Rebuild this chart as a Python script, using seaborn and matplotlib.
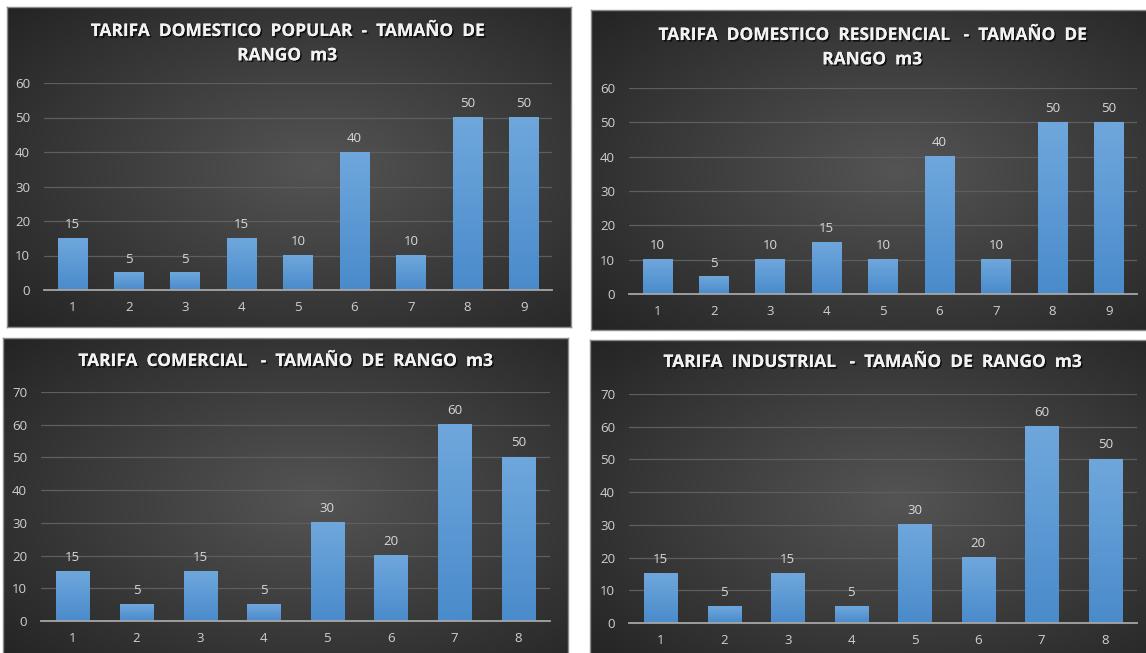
import numpy as np
import pandas as pd
import seaborn as sns
import matplotlib.pyplot as plt
import matplotlib.patheffects as pe
from matplotlib.colors import LinearSegmentedColormap

# data
rangos_9 = ["1", "2", "3", "4", "5", "6", "7", "8", "9"]
rangos_8 = ["1", "2", "3", "4", "5", "6", "7", "8"]
popular = [15, 5, 5, 15, 10, 40, 10, 50, 50]
residencial = [10, 5, 10, 15, 10, 40, 10, 50, 50]
comercial = [15, 5, 15, 5, 30, 20, 60, 50]
industrial = [15, 5, 15, 5, 30, 20, 60, 50]

titles = ["TARIFA  DOMESTICO  POPULAR  -  TAMAÑO  DE\nRANGO  m3",
          "TARIFA  DOMESTICO  RESIDENCIAL   -  TAMAÑO  DE\nRANGO  m3",
          "TARIFA  COMERCIAL   -  TAMAÑO  DE  RANGO  m3",
          "TARIFA  INDUSTRIAL   -  TAMAÑO  DE  RANGO  m3"]

W, H = 1146, 653

sns.set_theme(style="dark")
plt.rcParams['font.family'] = ['Open Sans', 'DejaVu Sans']

fig = plt.figure(figsize=(W / 100, H / 100), dpi=100)
fig.patch.set_facecolor("white")


def box(x0, y0, x1, y1):
    # pixel box (top-left origin) -> figure rect
    return [x0 / W, 1 - y1 / H, (x1 - x0) / W, (y1 - y0) / H]


# radial background like the excel dark style
yy, xx = np.mgrid[0:1:200j, 0:1:350j]
r = np.sqrt(((xx - 0.55) / 0.75) ** 2 + ((yy - 0.5) / 0.75) ** 2)
bg = np.clip(1 - r, 0, 1)
bg_cmap = LinearSegmentedColormap.from_list("bg", ["#242424", "#545454"])
bar_cmap = LinearSegmentedColormap.from_list("bar", ["#4a8bcb", "#6fa7dc"])
bar_grad = np.linspace(0, 1, 100).reshape(-1, 1)

shadow = [pe.withSimplePatchShadow(offset=(1.2, -1.2), shadow_rgbFace="black", alpha=0.7), pe.Normal()]

# (background box, plot box, categories, values, y max, title, title centre x, title y)
panels = [
    (box(7, 7, 571, 327), box(44, 83, 552, 290), rangos_9, popular, 60, titles[0], 287, 34),
    (box(591, 10, 1150, 330), box(629, 88, 1137, 294), rangos_9, residencial, 60, titles[1], 872, 38),
    (box(3, 338, 568, 660), box(41, 392, 550, 621), rangos_8, comercial, 70, titles[2], 285, 361),
    (box(590, 340, 1150, 660), box(629, 394, 1137, 623), rangos_8, industrial, 70, titles[3], 872, 362),
]

for bg_rect, ax_rect, cats, vals, ymax, title, tx, ty in panels:
    bga = fig.add_axes(bg_rect)
    bga.imshow(bg, cmap=bg_cmap, aspect="auto", extent=[0, 1, 0, 1], origin="upper")
    bga.set_xticks([])
    bga.set_yticks([])
    for s in bga.spines.values():
        s.set_color("#8c8c8c")
        s.set_linewidth(1)

    ax = fig.add_axes(ax_rect)
    ax.patch.set_alpha(0)
    df = pd.DataFrame({"rango": cats, "valor": vals})
    sns.barplot(data=df, x="rango", y="valor", ax=ax, color="#5b9bd5", width=0.52,
                saturation=1, linewidth=0, edgecolor="none")

    # gradient fill on each bar
    for p in ax.patches:
        x0, w, h = p.get_x(), p.get_width(), p.get_height()
        ax.imshow(bar_grad, cmap=bar_cmap, aspect="auto", origin="lower",
                  extent=[x0, x0 + w, 0, h], zorder=3)
        ax.text(x0 + w / 2, h + ymax * 0.035, f"{h:.0f}", ha="center", va="bottom",
                color="#d9d9d9", fontsize=9.5)

    ax.set_xlim(-0.5, len(cats) - 0.5)
    ax.set_ylim(0, ymax)
    ax.set_yticks(range(0, ymax + 1, 10))
    ax.grid(axis="y", color="#5e5e5e", linewidth=0.9)
    ax.set_axisbelow(True)
    ax.set_xlabel("")
    ax.set_ylabel("")
    for s in ["top", "right", "left"]:
        ax.spines[s].set_visible(False)
    ax.spines["bottom"].set_color("#a6a6a6")
    ax.spines["bottom"].set_linewidth(1.3)
    ax.spines["bottom"].set_zorder(4)
    ax.tick_params(axis="both", colors="#bfbfbf", labelsize=9.5, length=0)
    ax.tick_params(axis="y", pad=10)
    ax.tick_params(axis="x", pad=8)
    for lbl in ax.get_xticklabels() + ax.get_yticklabels():
        lbl.set_color("#d0d0d0")

    # two-line titles: ty is the centre of the first line
    if "\n" in title:
        fig.text(tx / W, 1 - (ty - 12) / H, title, ha="center", va="top",
                 color="#f2f2f2", fontsize=12.5, fontweight="bold", linespacing=1.45,
                 path_effects=shadow)
    else:
        fig.text(tx / W, 1 - ty / H, title, ha="center", va="center",
                 color="#f2f2f2", fontsize=12.5, fontweight="bold",
                 path_effects=shadow)

fig.savefig("out.png", dpi=100, facecolor=fig.get_facecolor())
